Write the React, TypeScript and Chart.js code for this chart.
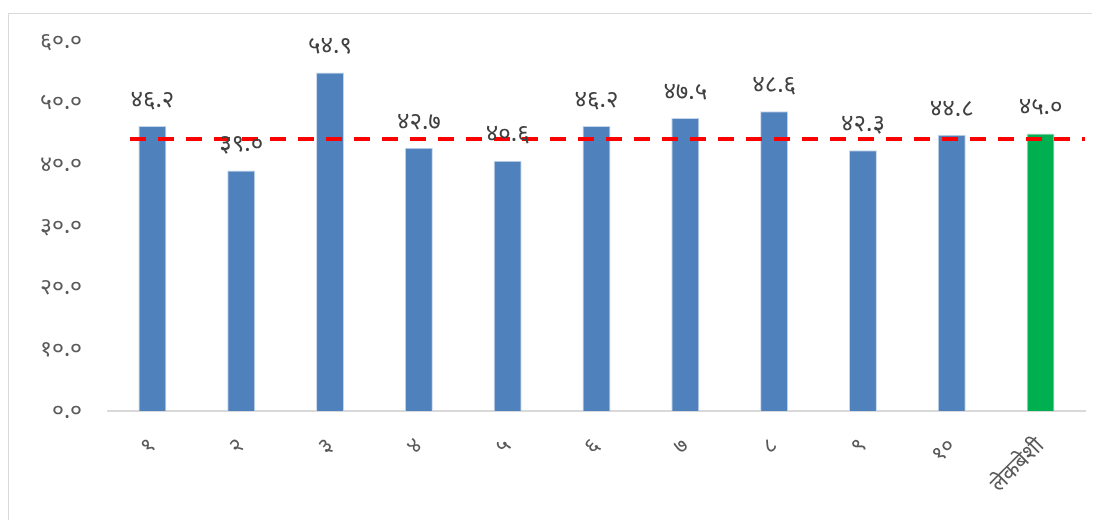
import React, { useEffect, useRef } from "react";
import { Chart, registerables } from "chart.js";

Chart.register(...registerables);

const categories = ["१", "२", "३", "४", "५", "६", "७", "८", "९", "१०", "लेकबेशी"];
const values = [46.2, 39.0, 54.9, 42.7, 40.6, 46.2, 47.5, 48.6, 42.3, 44.8, 45.0];
const barColors = ["#4f81bd", "#4f81bd", "#4f81bd", "#4f81bd", "#4f81bd", "#4f81bd", "#4f81bd", "#4f81bd", "#4f81bd", "#4f81bd", "#00b050"];
const referenceValue = 44.1;
const yTickValues = [0, 10, 20, 30, 40, 50, 60];

const devDigits = ["०", "१", "२", "३", "४", "५", "६", "७", "८", "९"];
const toDev = (s: string) => s.replace(/[0-9]/g, (d) => devDigits[Number(d)]);
const fmt = (v: number) => toDev(v.toFixed(1));

const FONT = "'Noto Sans', 'DejaVu Sans', sans-serif";

const overlayPlugin = {
  id: "overlay",
  afterDatasetsDraw(chart: any) {
    const { ctx, chartArea, scales } = chart;
    const y = scales.y.getPixelForValue(referenceValue);
    ctx.save();
    ctx.strokeStyle = "#ff0000";
    ctx.lineWidth = 4;
    ctx.setLineDash([16, 12]);
    ctx.beginPath();
    ctx.moveTo(chartArea.left + 22, y);
    ctx.lineTo(chartArea.right, y);
    ctx.stroke();
    ctx.restore();

    const meta = chart.getDatasetMeta(0);
    ctx.save();
    ctx.fillStyle = "#404040";
    ctx.font = `24px ${FONT}`;
    ctx.textAlign = "center";
    ctx.textBaseline = "bottom";
    meta.data.forEach((bar: any, i: number) => {
      ctx.fillText(fmt(values[i]), bar.x, bar.y - 14);
    });
    ctx.restore();
  },
};

export default function App() {
  const ref = useRef<HTMLCanvasElement>(null);
  useEffect(() => {
    if (!ref.current) return;
    const chart = new Chart(ref.current, {
      type: "bar",
      data: {
        labels: categories,
        datasets: [
          {
            data: values,
            backgroundColor: barColors,
            borderColor: "#c6d6ea",
            borderWidth: 1,
            categoryPercentage: 1,
            barPercentage: 0.315,
          },
        ],
      },
      options: {
        animation: false,
        responsive: false,
        maintainAspectRatio: false,
        layout: { padding: { top: 27, right: 15, left: 0, bottom: 0 } },
        plugins: { legend: { display: false }, tooltip: { enabled: false } },
        scales: {
          x: {
            grid: { display: false, drawTicks: false },
            border: { display: true, color: "#d9d9d9", width: 2 },
            ticks: {
              color: "#595959",
              font: { family: FONT, size: 22 },
              minRotation: 45,
              maxRotation: 45,
              padding: 22,
            },
            afterFit: (s: any) => {
              s.height = 109;
              s.paddingLeft = 0;
              s.paddingRight = 0;
            },
          },
          y: {
            min: 0,
            max: 60,
            afterBuildTicks: (s: any) => {
              s.ticks = yTickValues.map((v) => ({ value: v }));
            },
            grid: { display: false, drawTicks: false },
            border: { display: false },
            ticks: {
              color: "#595959",
              font: { family: FONT, size: 23 },
              padding: 26,
              callback: (v: any) => fmt(Number(v)),
            },
            afterFit: (s: any) => {
              s.width = 99;
              s.paddingTop = 0;
              s.paddingBottom = 0;
            },
          },
        },
      },
      plugins: [overlayPlugin],
    });
    return () => chart.destroy();
  }, []);
  return (
    <div
      style={{
        marginTop: 5,
        width: 1092,
        height: 507,
        borderLeft: "1px solid #d9d9d9",
        borderTop: "1px solid #d9d9d9",
        overflow: "hidden",
        boxSizing: "border-box",
      }}
    >
      <canvas ref={ref} width={1091} height={506} style={{ display: "block" }} />
    </div>
  );
}
